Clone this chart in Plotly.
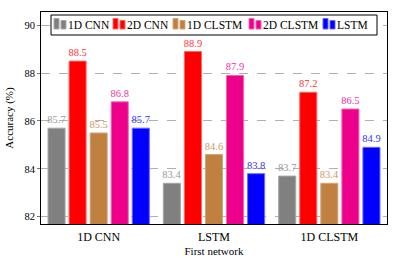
import plotly.graph_objects as go

categories = ["1D CNN", "LSTM", "1D CLSTM"]
series_names = ["1D CNN", "2D CNN", "1D CLSTM", "2D CLSTM", "LSTM"]
vals_1d_cnn = [85.7, 83.4, 83.7]
vals_2d_cnn = [88.5, 88.9, 87.2]
vals_1d_clstm = [85.5, 84.6, 83.4]
vals_2d_clstm = [86.8, 87.9, 86.5]
vals_lstm = [85.7, 83.8, 84.9]
y_ticks = [82, 84, 86, 88, 90]

series_values = [vals_1d_cnn, vals_2d_cnn, vals_1d_clstm, vals_2d_clstm, vals_lstm]
fill_colors = ["#808080", "#ff0000", "#bf8040", "#ec008c", "#0000ff"]
edge_colors = ["#a6a6a6", "#ff6666", "#d2a679", "#f266b0", "#6666ff"]
text_colors = ["#999999", "#ff3333", "#cc9966", "#ef33a3", "#3333ff"]

FONT = "Liberation Serif, DejaVu Serif, serif"
W, H = 393, 263
ML, MR, MT, MB = 41, 6, 12, 39
PW, PH = W - ML - MR, H - MT - MB

def px(x):
    return (x - ML) / PW

def py(y):
    return (H - MB - y) / PH

fig = go.Figure()
for name, vals, fc, ec, tc in zip(series_names, series_values, fill_colors, edge_colors, text_colors):
    fig.add_trace(go.Bar(
        x=categories, y=vals, name=name,
        marker=dict(color=fc, line=dict(color=ec, width=1)),
        text=[f"{v:.1f}" for v in vals], textposition="outside",
        textfont=dict(color=tc, size=10.5, family=FONT),
        constraintext="none",
        cliponaxis=False,
    ))

# custom legend (box, two-bar icons, labels)
shapes = [dict(type="rect", xref="paper", yref="paper", x0=px(51), x1=px(377), y0=py(35), y1=py(15),
               line=dict(color="black", width=1), fillcolor="white", layer="above")]
annotations = []
icon_starts = [54, 113, 173, 249, 323]
text_starts = [67, 126, 186, 262, 336]
for name, fc, ec, s, t in zip(series_names, fill_colors, edge_colors, icon_starts, text_starts):
    shapes.append(dict(type="rect", xref="paper", yref="paper", x0=px(s), x1=px(s + 5),
                       y0=py(29), y1=py(18.5), fillcolor=fc, line=dict(color=ec, width=1), layer="above"))
    shapes.append(dict(type="rect", xref="paper", yref="paper", x0=px(s + 7), x1=px(s + 12),
                       y0=py(29), y1=py(20.5), fillcolor=fc, line=dict(color=ec, width=1), layer="above"))
    annotations.append(dict(text=name, xref="paper", yref="paper", x=px(t), y=py(25),
                            xanchor="left", yanchor="middle", showarrow=False, borderpad=0,
                            font=dict(size=11.5, family=FONT, color="black")))

fig.update_layout(
    width=W, height=H,
    margin=dict(l=ML, r=MR, t=MT, b=MB),
    paper_bgcolor="white", plot_bgcolor="white",
    barmode="group", bargap=0.087, bargroupgap=0.19,
    font=dict(family=FONT, size=12, color="black"),
    showlegend=False,
    shapes=shapes, annotations=annotations,
    xaxis=dict(range=[-0.5, 2.5], showline=True, linecolor="black", linewidth=1, mirror=True,
               ticks="", ticklabelstandoff=2, automargin=False,
               title=dict(text="First network", font=dict(size=11), standoff=3),
               tickfont=dict(size=12)),
    yaxis=dict(range=[81.7, 90.55], tickvals=y_ticks, showline=True, linecolor="black",
               linewidth=1, mirror=True, showgrid=True, gridcolor="#b0b0b0", griddash="dash",
               gridwidth=1, zeroline=False, ticks="outside", ticklen=3, tickcolor="#777777",
               tickfont=dict(size=10.5), automargin=False,
               title=dict(text="Accuracy (%)", font=dict(size=11), standoff=8)),
)

fig.write_html("out.html", config={"displayModeBar": False},
               post_script="document.body.style.margin='0';document.body.style.overflow='hidden';")
